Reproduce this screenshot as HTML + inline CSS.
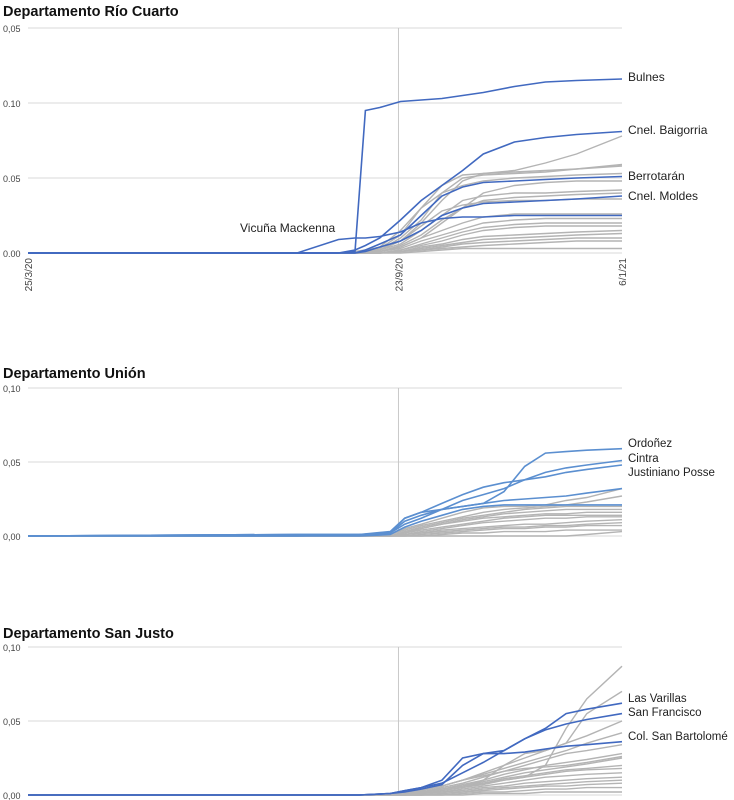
<!DOCTYPE html>
<html><head><meta charset="utf-8"><style>
html,body{margin:0;padding:0;background:#fff;}
svg{display:block;font-family:"Liberation Sans",sans-serif;}
</style></head><body>
<svg id="svg" width="734" height="800" viewBox="0 0 734 800"></svg>
<script>
// ---- Data: Río Cuarto ----
const daysRC = [0,130,150,158,163,170,180,190,200,210,220,235,250,265,287];
const rcTicks = ["0.00","0.05","0.10","0,05"];
const rcTickVals = [0,0.05,0.10,0.15];
const rcXLabels = ["25/3/20","23/9/20","6/1/21"];
const rcXLabelDays = [0,179,287];
const rcBlueNames = ["Bulnes","Cnel. Baigorria","Berrotarán","Cnel. Moldes","Vicuña Mackenna"];
const rcBulnes = [0,0,0,0.001,0.095,0.097,0.101,0.102,0.103,0.105,0.107,0.111,0.114,0.115,0.116];
const rcBaigorria = [0,0,0,0.002,0.005,0.010,0.022,0.035,0.045,0.055,0.066,0.074,0.077,0.079,0.081];
const rcBerrotaran = [0,0,0,0,0.002,0.006,0.012,0.025,0.038,0.044,0.047,0.048,0.049,0.050,0.051];
const rcMoldes = [0,0,0,0,0.001,0.004,0.008,0.015,0.025,0.030,0.033,0.034,0.035,0.036,0.038];
const rcVicuna = [0,0,0.009,0.010,0.010,0.011,0.014,0.020,0.023,0.024,0.024,0.025,0.025,0.025,0.025];
const rcGrays = [
[0,0,0,0,0,0.002,0.008,0.020,0.035,0.048,0.053,0.055,0.060,0.066,0.078],
[0,0,0,0,0.001,0.003,0.012,0.030,0.045,0.052,0.053,0.054,0.055,0.056,0.059],
[0,0,0,0,0,0.002,0.010,0.022,0.040,0.050,0.052,0.053,0.054,0.056,0.058],
[0,0,0,0.001,0.002,0.004,0.015,0.030,0.040,0.045,0.048,0.050,0.051,0.052,0.053],
[0,0,0,0,0,0.002,0.006,0.015,0.025,0.035,0.038,0.040,0.040,0.041,0.042],
[0,0,0,0,0,0.001,0.005,0.012,0.022,0.030,0.035,0.037,0.038,0.039,0.040],
[0,0,0,0,0.001,0.002,0.008,0.018,0.028,0.032,0.034,0.035,0.035,0.036,0.036],
[0,0,0,0,0,0.001,0.004,0.010,0.015,0.020,0.024,0.026,0.026,0.026,0.026],
[0,0,0,0,0,0.001,0.003,0.008,0.012,0.016,0.020,0.022,0.023,0.023,0.023],
[0,0,0,0,0,0,0.002,0.006,0.010,0.014,0.017,0.019,0.020,0.020,0.020],
[0,0,0,0,0,0,0.002,0.005,0.008,0.012,0.015,0.017,0.018,0.018,0.018],
[0,0,0,0,0,0,0.001,0.004,0.006,0.009,0.011,0.012,0.013,0.014,0.015],
[0,0,0,0,0,0,0.001,0.003,0.005,0.007,0.009,0.010,0.011,0.012,0.013],
[0,0,0,0,0,0,0.001,0.002,0.004,0.006,0.007,0.008,0.009,0.010,0.010],
[0,0,0,0,0,0,0,0.001,0.002,0.003,0.003,0.003,0.003,0.003,0.003],
[0,0,0,0,0,0,0.001,0.002,0.003,0.004,0.005,0.006,0.007,0.008,0.008],
[0,0,0,0,0,0.001,0.004,0.010,0.020,0.030,0.040,0.045,0.047,0.048,0.048]
];
// ---- Data: Unión ----
const daysU = [0,130,160,175,182,190,200,210,220,230,240,250,260,270,287];
const uTicks = ["0,00","0,05","0,10"];
const uTickVals = [0,0.05,0.10];
const uBlueNames = ["Ordoñez","Cintra","Justiniano Posse","",""];
const uOrdonez = [0,0.001,0.001,0.002,0.012,0.016,0.018,0.020,0.022,0.030,0.047,0.056,0.057,0.058,0.059];
const uCintra = [0,0.001,0.001,0.002,0.008,0.012,0.018,0.024,0.028,0.032,0.038,0.043,0.046,0.048,0.051];
const uJustiniano = [0,0.001,0.001,0.003,0.012,0.016,0.022,0.028,0.033,0.036,0.038,0.040,0.043,0.045,0.048];
const uBlue4 = [0,0,0.001,0.002,0.010,0.014,0.018,0.020,0.022,0.024,0.025,0.026,0.027,0.029,0.032];
const uBlue5 = [0,0,0,0.001,0.006,0.010,0.014,0.018,0.020,0.021,0.021,0.021,0.021,0.021,0.021];
const uGrays = [
[0,0,0,0.001,0.005,0.008,0.012,0.016,0.019,0.020,0.020,0.021,0.024,0.026,0.032],
[0,0,0,0.001,0.004,0.007,0.010,0.013,0.016,0.018,0.019,0.020,0.021,0.023,0.027],
[0,0,0,0,0.003,0.006,0.009,0.012,0.014,0.016,0.018,0.019,0.020,0.020,0.020],
[0,0,0,0,0.003,0.005,0.008,0.010,0.012,0.013,0.014,0.015,0.015,0.016,0.016],
[0,0,0,0,0.002,0.004,0.006,0.008,0.010,0.012,0.013,0.014,0.014,0.014,0.014],
[0,0,0,0,0.001,0.003,0.005,0.007,0.009,0.010,0.011,0.012,0.012,0.013,0.013],
[0,0,0,0,0.001,0.002,0.004,0.005,0.006,0.007,0.008,0.008,0.009,0.010,0.011],
[0,0,0,0,0.001,0.002,0.003,0.004,0.005,0.006,0.006,0.007,0.007,0.008,0.009],
[0,0,0,0,0,0.001,0.002,0.003,0.004,0.005,0.005,0.006,0.006,0.007,0.007],
[0,0,0,0,0,0,0.001,0.002,0.002,0.003,0.003,0.003,0.004,0.004,0.004],
[0,0,0,0,0,0,0,0,0,0,0,0,0,0.001,0.003],
[0,0,0,0,0.002,0.005,0.008,0.011,0.013,0.015,0.016,0.017,0.018,0.018,0.018]
];
// ---- Data: San Justo ----
const daysSJ = [0,130,160,175,182,190,200,210,220,230,240,250,260,270,287];
const sjTicks = ["0,00","0,05","0,10"];
const sjTickVals = [0,0.05,0.10];
const sjBlueNames = ["Las Varillas","San Francisco","Col. San Bartolomé"];
const sjLasVarillas = [0,0,0,0.001,0.003,0.005,0.010,0.025,0.028,0.030,0.038,0.045,0.055,0.058,0.062];
const sjSanFrancisco = [0,0,0,0.001,0.003,0.005,0.008,0.015,0.022,0.030,0.038,0.044,0.048,0.051,0.055];
const sjColSB = [0,0,0,0.001,0.002,0.004,0.007,0.020,0.028,0.028,0.029,0.031,0.033,0.034,0.036];
const sjGrays = [
[0,0,0,0,0.001,0.002,0.004,0.006,0.008,0.010,0.012,0.020,0.045,0.065,0.087],
[0,0,0,0,0.001,0.002,0.004,0.006,0.010,0.020,0.028,0.030,0.035,0.055,0.070],
[0,0,0,0,0.001,0.003,0.006,0.010,0.015,0.020,0.025,0.030,0.035,0.040,0.050],
[0,0,0,0,0.001,0.003,0.006,0.010,0.014,0.018,0.022,0.026,0.030,0.035,0.042],
[0,0,0,0,0.001,0.002,0.005,0.008,0.012,0.016,0.020,0.024,0.028,0.030,0.034],
[0,0,0,0,0.001,0.002,0.004,0.007,0.010,0.014,0.017,0.020,0.022,0.024,0.028],
[0,0,0,0,0,0.002,0.004,0.006,0.009,0.012,0.015,0.017,0.019,0.021,0.025],
[0,0,0,0,0,0.001,0.003,0.005,0.008,0.011,0.013,0.015,0.017,0.018,0.020],
[0,0,0,0,0,0.001,0.003,0.005,0.007,0.010,0.012,0.014,0.016,0.017,0.018],
[0,0,0,0,0,0.001,0.002,0.004,0.006,0.008,0.010,0.012,0.013,0.014,0.015],
[0,0,0,0,0,0.001,0.002,0.003,0.005,0.006,0.008,0.009,0.010,0.011,0.012],
[0,0,0,0,0,0,0.001,0.002,0.004,0.005,0.006,0.007,0.008,0.009,0.010],
[0,0,0,0,0,0,0.001,0.002,0.003,0.004,0.005,0.006,0.006,0.007,0.008],
[0,0,0,0,0,0,0,0.001,0.002,0.002,0.003,0.004,0.004,0.005,0.005],
[0,0,0,0,0,0,0,0,0.001,0.001,0.001,0.002,0.002,0.002,0.002],
[0,0,0,0,0.001,0.003,0.006,0.010,0.013,0.016,0.018,0.019,0.020,0.022,0.026]
];
const refDay = 179;

const NS = "http://www.w3.org/2000/svg";
const svg = document.getElementById("svg");
const X0 = 28, X1 = 622, DMAX = 287;
function xScale(d){ return X0 + d/DMAX*(X1-X0); }
function mk(tag, attrs, parent){ const e=document.createElementNS(NS,tag); for(const k in attrs) e.setAttribute(k,attrs[k]); (parent||svg).appendChild(e); return e; }

function drawChart(cfg){
  const g = mk("g",{});
  
  
  const y = v => cfg.y0 - v/cfg.vStep*(cfg.y0-cfg.yStep);
  const title = mk("text",{x:3,y:cfg.titleY,"font-size":14.5,"font-weight":"bold",fill:"#111"},g);
  title.textContent = cfg.title;
  
  
  cfg.tickVals.forEach((tv,i)=>{
    const yy = y(tv);
    const gl = mk("line",{x1:X0,x2:X1,y1:yy,y2:yy,stroke:"#e6e6e6","stroke-width":1.5},g);
    
    
    const t = mk("text",{x:3,y:yy+4,"font-size":9,fill:"#444"},g);
    t.textContent = cfg.ticks[i];
    
    
  });
  const vl = mk("line",{x1:xScale(refDay),x2:xScale(refDay),y1:y(cfg.tickVals[cfg.tickVals.length-1]),y2:cfg.y0,stroke:"#c8c8c8","stroke-width":1},g);
  
  
  const path = vals => vals.map((v,i)=>(i?"L":"M")+xScale(cfg.days[i]).toFixed(1)+","+y(v).toFixed(1)).join("");
  cfg.grays.forEach(vals=>{
    const p = mk("path",{d:path(vals),fill:"none",stroke:"#b4b4b4","stroke-width":1.4},g);
    
    
  });
  cfg.blues.forEach(vals=>{
    const p = mk("path",{d:path(vals),fill:"none",stroke:cfg.blueColor,"stroke-width":1.6},g);
    
    
  });
  cfg.labels.forEach(l=>{
    const t = mk("text",{x:l[1],y:l[2],"font-size":cfg.labelSize,fill:"#222"},g);
    t.textContent = l[0];
    
    
  });
  return g;
}

drawChart({key:"rio-cuarto",title:"Departamento Río Cuarto",titleY:16,y0:253,yStep:178,vStep:0.05,
  ticks:rcTicks,tickVals:rcTickVals,days:daysRC,grays:rcGrays,
  blues:[rcVicuna,rcMoldes,rcBerrotaran,rcBaigorria,rcBulnes],blueColor:"#4169c0",labelSize:12,
  labels:[[rcBlueNames[0],628,81],[rcBlueNames[1],628,134],[rcBlueNames[2],628,180],[rcBlueNames[3],628,200],[rcBlueNames[4],240,232]]});
rcXLabels.forEach((s,i)=>{
  const t = mk("text",{"font-size":10,fill:"#444",transform:"translate("+(xScale(rcXLabelDays[i])+4)+",258) rotate(-90)","text-anchor":"end"});
  t.textContent = s;
  
  
});
drawChart({key:"union",title:"Departamento Unión",titleY:378,y0:536,yStep:462,vStep:0.05,
  ticks:uTicks,tickVals:uTickVals,days:daysU,grays:uGrays,
  blues:[uBlue5,uBlue4,uJustiniano,uCintra,uOrdonez],blueColor:"#5b8fd0",labelSize:11.5,
  labels:[[uBlueNames[0],628,447],[uBlueNames[1],628,462],[uBlueNames[2],628,476]]});
drawChart({key:"san-justo",title:"Departamento San Justo",titleY:638,y0:795,yStep:721,vStep:0.05,
  ticks:sjTicks,tickVals:sjTickVals,days:daysSJ,grays:sjGrays,
  blues:[sjColSB,sjSanFrancisco,sjLasVarillas],blueColor:"#4169c0",labelSize:11.5,
  labels:[[sjBlueNames[0],628,702],[sjBlueNames[1],628,716],[sjBlueNames[2],628,740]]});
</script>
</body></html>
